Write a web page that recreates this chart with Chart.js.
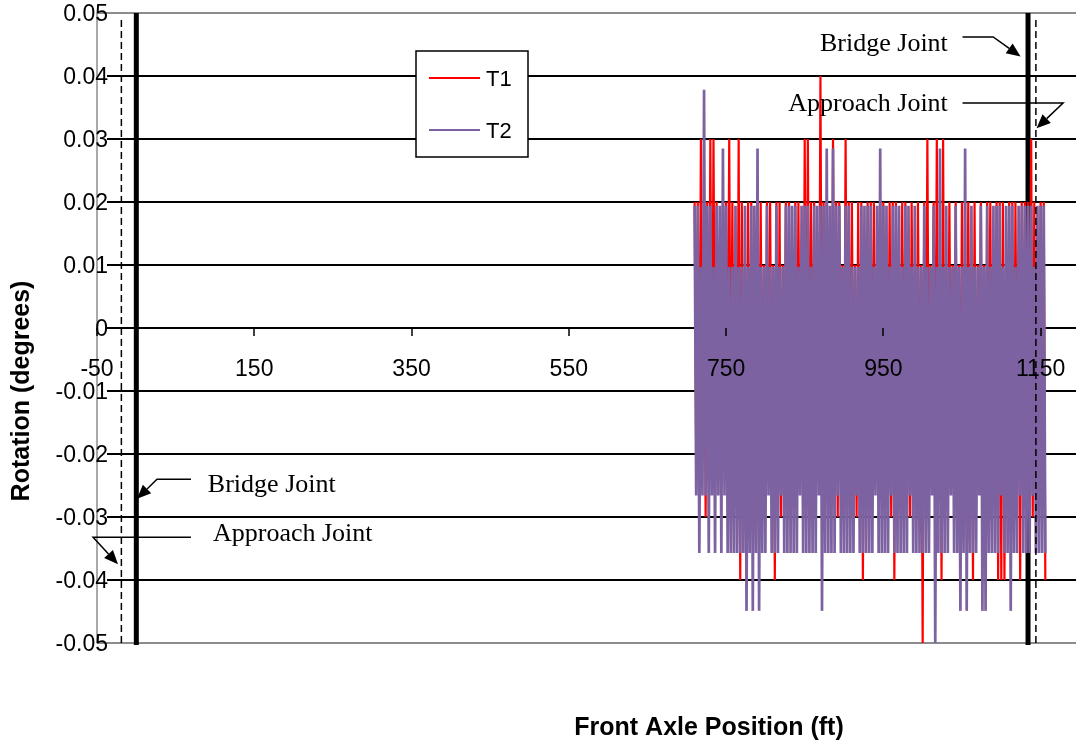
<!DOCTYPE html>
<html>
<head>
<meta charset="utf-8">
<script src="https://cdn.jsdelivr.net/npm/chart.js@4.4.1/dist/chart.umd.min.js"></script>
<style>
  body { margin: 0; background: #fff; }
  canvas { display: block; }
</style>
</head>
<body>
<canvas id="rotationChart" width="1076" height="742"></canvas>
<script>
// Front axle position (ft) for every sample
const positions = [
    710, 712, 714, 716, 718, 720, 722, 724, 726, 728, 730, 732, 734, 736, 738, 740,
    742, 744, 746, 748, 750, 752, 754, 756, 758, 760, 762, 764, 766, 768, 770, 772,
    774, 776, 778, 780, 782, 784, 786, 788, 790, 792, 794, 796, 798, 800, 802, 804,
    806, 808, 810, 812, 814, 816, 818, 820, 822, 824, 826, 828, 830, 832, 834, 836,
    838, 840, 842, 844, 846, 848, 850, 852, 854, 856, 858, 860, 862, 864, 866, 868,
    870, 872, 874, 876, 878, 880, 882, 884, 886, 888, 890, 892, 894, 896, 898, 900,
    902, 904, 906, 908, 910, 912, 914, 916, 918, 920, 922, 924, 926, 928, 930, 932,
    934, 936, 938, 940, 942, 944, 946, 948, 950, 952, 954, 956, 958, 960, 962, 964,
    966, 968, 970, 972, 974, 976, 978, 980, 982, 984, 986, 988, 990, 992, 994, 996,
    998, 1000, 1002, 1004, 1006, 1008, 1010, 1012, 1014, 1016, 1018, 1020, 1022, 1024, 1026, 1028,
    1030, 1032, 1034, 1036, 1038, 1040, 1042, 1044, 1046, 1048, 1050, 1052, 1054, 1056, 1058, 1060,
    1062, 1064, 1066, 1068, 1070, 1072, 1074, 1076, 1078, 1080, 1082, 1084, 1086, 1088, 1090, 1092,
    1094, 1096, 1098, 1100, 1102, 1104, 1106, 1108, 1110, 1112, 1114, 1116, 1118, 1120, 1122, 1124,
    1126, 1128, 1130, 1132, 1134, 1136, 1138, 1140, 1142, 1144, 1146, 1148, 1150, 1152, 1154, 1156
];

// rotation (degrees), truck T1
const t1Values = [
    0.02, -0.02, 0.02, -0.02, 0.03, -0.02, 0.02, -0.03, 0.02, -0.02, 0.03, -0.02, 0.03, -0.02, 0.02, -0.02,
    0.01, -0.02, 0.02, -0.02, 0.02, -0.02, 0.03, -0.02, 0.02, -0.02, 0.01, -0.03, 0.03, -0.04, 0.02, -0.02,
    0.01, -0.02, 0.02, -0.03, 0.02, -0.02, 0.01, -0.02, 0.02, -0.02, 0.02, -0.02, 0.01, -0.02, 0.02, -0.02,
    0.02, -0.02, 0.01, -0.04, 0.02, -0.03, 0.02, -0.03, 0.01, -0.02, 0.02, -0.03, 0.02, -0.02, 0.01, -0.02,
    0.02, -0.02, 0.02, -0.02, 0.01, -0.03, 0.03, -0.02, 0.03, -0.02, 0.02, -0.02, 0.02, -0.03, 0.01, -0.02,
    0.04, -0.02, 0.02, -0.02, 0.02, -0.03, 0.01, -0.02, 0.03, -0.02, 0.02, -0.03, 0.02, -0.02, 0.01, -0.02,
    0.03, -0.02, 0.02, -0.02, 0.02, -0.02, 0.01, -0.03, 0.02, -0.03, 0.02, -0.04, 0.01, -0.02, 0.02, -0.03,
    0.02, -0.02, 0.02, -0.02, 0.01, -0.02, 0.02, -0.02, 0.02, -0.02, 0.01, -0.02, 0.02, -0.03, 0.02, -0.04,
    0.02, -0.02, 0.01, -0.02, 0.02, -0.02, 0.02, -0.03, 0.01, -0.03, 0.02, -0.02, 0.01, -0.02, 0.02, -0.02,
    0.01, -0.05, 0.02, -0.02, 0.03, -0.02, 0.01, -0.02, 0.02, -0.02, 0.03, -0.02, 0.01, -0.04, 0.03, -0.03,
    0.01, -0.02, 0.02, -0.02, 0.01, -0.02, 0.02, -0.02, 0.01, -0.02, 0.02, -0.02, 0.01, -0.02, 0.02, -0.02,
    0.01, -0.04, 0.02, -0.03, 0.01, -0.02, 0.02, -0.02, 0.01, -0.03, 0.02, -0.02, 0.02, -0.02, 0.01, -0.02,
    0.02, -0.04, 0.02, -0.04, 0.02, -0.04, 0.01, -0.02, 0.02, -0.02, 0.02, -0.03, 0.02, -0.02, 0.01, -0.04,
    0.02, -0.02, 0.02, -0.02, 0.02, -0.02, 0.03, -0.03, 0.02, -0.02, 0.01, -0.02, 0.02, -0.02, 0.02, -0.04
];

// rotation (degrees), truck T2
const t2Values = [
    0.0194, -0.0266, 0.0194, -0.0357, 0.0097, -0.0266, 0.0378, -0.0266, 0.0194, -0.0357, 0.0194, -0.0266, 0.0097, -0.0357, 0.0194, -0.0266,
    0.0194, -0.0357, 0.0285, -0.0266, 0.0194, -0.0357, 0.0097, -0.0357, 0.0097, -0.0357, 0.0194, -0.0357, 0.0097, -0.0357, 0.0097, -0.0357,
    0.0194, -0.0449, 0.0097, -0.0357, 0.0194, -0.0449, 0.0194, -0.0357, 0.0285, -0.0449, 0.0097, -0.0357, 0.0097, -0.0357, 0.0194, -0.0266,
    0.0097, -0.0357, 0.0097, -0.0357, 0.0194, -0.0357, 0.0097, -0.0266, 0.0097, -0.0357, 0.0194, -0.0357, 0.0194, -0.0357, 0.0194, -0.0357,
    0.0194, -0.0357, 0.0097, -0.0266, 0.0194, -0.0357, 0.0194, -0.0357, 0.0194, -0.0357, 0.0097, -0.0357, 0.0194, -0.0357, 0.0194, -0.0266,
    0.0194, -0.0449, 0.0194, -0.0357, 0.0285, -0.0357, 0.0194, -0.0357, 0.0285, -0.0357, 0.0194, -0.0266, 0.0194, -0.0357, 0.0097, -0.0357,
    0.0194, -0.0357, 0.0194, -0.0357, 0.0097, -0.0357, 0.0097, -0.0266, 0.0097, -0.0357, 0.0194, -0.0357, 0.0194, -0.0357, 0.0194, -0.0357,
    0.0194, -0.0357, 0.0097, -0.0266, 0.0194, -0.0357, 0.0285, -0.0357, 0.0194, -0.0357, 0.0194, -0.0357, 0.0097, -0.0266, 0.0194, -0.0357,
    0.0194, -0.0357, 0.0194, -0.0357, 0.0097, -0.0357, 0.0194, -0.0357, 0.0194, -0.0266, 0.0097, -0.0357, 0.0194, -0.0357, 0.0097, -0.0357,
    0.0097, -0.0357, 0.0194, -0.0357, 0.0097, -0.0357, 0.0097, -0.0266, 0.0194, -0.0504, 0.0097, -0.0357, 0.0285, -0.0357, 0.0097, -0.0357,
    0.0194, -0.0357, 0.0097, -0.0266, 0.0097, -0.0357, 0.0194, -0.0357, 0.0097, -0.0449, 0.0097, -0.0357, 0.0285, -0.0449, 0.0097, -0.0357,
    0.0194, -0.0357, 0.0097, -0.0357, 0.0097, -0.0266, 0.0194, -0.0449, 0.0097, -0.0449, 0.0194, -0.0357, 0.0097, -0.0357, 0.0194, -0.0357,
    0.0194, -0.0357, 0.0194, -0.0266, 0.0097, -0.0357, 0.0194, -0.0357, 0.0194, -0.0449, 0.0194, -0.0357, 0.0097, -0.0357, 0.0194, -0.0266,
    0.0194, -0.0357, 0.0194, -0.0357, 0.0194, -0.0357, 0.0194, -0.0266, 0.0097, -0.0357, 0.0194, -0.0357, 0.0194, -0.0357, 0.0194, -0.0357
];

const xTicks = [-50, 150, 350, 550, 750, 950, 1150];
const yTicks = [0.05, 0.04, 0.03, 0.02, 0.01, 0, -0.01, -0.02, -0.03, -0.04, -0.05];

// joint locations (ft)
const bridgeJoints = [0, 1134];
const approachJoints = [-19, 1144];

const SANS = "'Liberation Sans', Arial, sans-serif";
const SERIF = "'Liberation Serif', 'Times New Roman', serif";

// callouts, in data units: text anchor then leader line ending at the arrow tip
const callouts = [
    { text: 'Bridge Joint', align: 'left', at: [91, -0.0249], line: [[69.5, -0.024], [26.3, -0.024], [0.9, -0.0271]] },
    { text: 'Approach Joint', align: 'left', at: [97.5, -0.0327], line: [[69.5, -0.0332], [-55, -0.0332], [-23.3, -0.0375]] },
    { text: 'Bridge Joint', align: 'right', at: [1032, 0.0451], line: [[1050.7, 0.0462], [1089.7, 0.0462], [1124.5, 0.0431]] },
    { text: 'Approach Joint', align: 'right', at: [1032, 0.0356], line: [[1050.7, 0.0357], [1178.6, 0.0357], [1144.8, 0.0317]] }
];

function drawArrow(ctx, pts) {
    const n = pts.length;
    const [tx, ty] = pts[n - 1];
    const [px, py] = pts[n - 2];
    const ang = Math.atan2(ty - py, tx - px);
    const len = 14, half = 6;
    const bx = tx - len * Math.cos(ang), by = ty - len * Math.sin(ang);

    ctx.beginPath();
    ctx.moveTo(pts[0][0], pts[0][1]);
    for (let i = 1; i < n - 1; i++) ctx.lineTo(pts[i][0], pts[i][1]);
    ctx.lineTo(bx, by);
    ctx.stroke();

    // filled head
    ctx.beginPath();
    ctx.moveTo(tx, ty);
    ctx.lineTo(bx + half * Math.sin(ang), by - half * Math.cos(ang));
    ctx.lineTo(bx - half * Math.sin(ang), by + half * Math.cos(ang));
    ctx.closePath();
    ctx.fill();
}

const overlay = {
    id: 'overlay',
    beforeDatasetsDraw(chart) {
        const { ctx, chartArea: a, scales: { x, y } } = chart;
        ctx.save();

        // horizontal gridlines
        yTicks.forEach((v) => {
            const py = Math.round(y.getPixelForValue(v));
            const edge = Math.abs(v) === 0.05;
            ctx.strokeStyle = edge ? '#8c8c8c' : '#000';
            ctx.lineWidth = 2;
            ctx.beginPath();
            ctx.moveTo(edge ? a.left : a.left + 10, py);
            ctx.lineTo(a.right, py);
            ctx.stroke();
        });

        // plot area left border
        ctx.strokeStyle = '#8c8c8c';
        ctx.lineWidth = 1.5;
        ctx.beginPath();
        ctx.moveTo(a.left, a.top);
        ctx.lineTo(a.left, a.bottom);
        ctx.stroke();

        // bridge joints (solid, thick)
        ctx.strokeStyle = '#000';
        ctx.lineWidth = 5;
        bridgeJoints.forEach((j) => {
            const px = x.getPixelForValue(j);
            ctx.beginPath();
            ctx.moveTo(px, a.top);
            ctx.lineTo(px, a.bottom + 2);
            ctx.stroke();
        });
        ctx.restore();
    },
    afterDatasetsDraw(chart) {
        const { ctx, chartArea: a, scales: { x, y } } = chart;
        ctx.save();

        // approach joints (dashed)
        ctx.strokeStyle = '#000';
        ctx.lineWidth = 1.5;
        ctx.setLineDash([7, 4]);
        approachJoints.forEach((j) => {
            const px = x.getPixelForValue(j);
            ctx.beginPath();
            ctx.moveTo(px, a.top + 7);
            ctx.lineTo(px, a.bottom);
            ctx.stroke();
        });
        ctx.setLineDash([]);

        // x tick marks on the zero line
        const y0 = Math.round(y.getPixelForValue(0));
        ctx.lineWidth = 1.5;
        xTicks.forEach((v) => {
            const px = Math.round(x.getPixelForValue(v));
            ctx.beginPath();
            ctx.moveTo(px, y0);
            ctx.lineTo(px, y0 + 8);
            ctx.stroke();
        });

        // tick labels
        ctx.fillStyle = '#000';
        ctx.font = '23px ' + SANS;
        ctx.textAlign = 'center';
        ctx.textBaseline = 'middle';
        xTicks.forEach((v) => {
            ctx.fillText(String(v), x.getPixelForValue(v), y0 + 42);
        });
        ctx.textAlign = 'right';
        yTicks.forEach((v) => {
            const label = v === 0 ? '0' : v.toFixed(2);
            ctx.fillText(label, a.left + 11, y.getPixelForValue(v) + 2);
        });

        // legend box
        const lx = 416, ly = 51, lw = 112, lh = 106;
        ctx.fillStyle = '#fff';
        ctx.fillRect(lx, ly, lw, lh);
        ctx.strokeStyle = '#000';
        ctx.lineWidth = 1.5;
        ctx.strokeRect(lx, ly, lw, lh);
        ctx.font = '22px ' + SANS;
        ctx.textAlign = 'left';
        chart.data.datasets.forEach((ds, i) => {
            const ry = ly + 27 + i * 52;
            ctx.strokeStyle = ds.borderColor;
            ctx.lineWidth = 2;
            ctx.beginPath();
            ctx.moveTo(lx + 13, ry);
            ctx.lineTo(lx + 64, ry);
            ctx.stroke();
            ctx.fillStyle = '#000';
            ctx.fillText(ds.label, lx + 70, ry + 2);
        });

        // joint callouts
        ctx.font = '26px ' + SERIF;
        ctx.strokeStyle = '#000';
        ctx.fillStyle = '#000';
        ctx.lineWidth = 1.5;
        callouts.forEach((c) => {
            ctx.textAlign = c.align;
            ctx.fillText(c.text, x.getPixelForValue(c.at[0]), y.getPixelForValue(c.at[1]));
            drawArrow(ctx, c.line.map(p => [x.getPixelForValue(p[0]), y.getPixelForValue(p[1])]));
        });

        // axis titles
        ctx.font = 'bold 25px ' + SANS;
        ctx.textAlign = 'center';
        ctx.fillText('Front Axle Position (ft)', 709, 728);
        ctx.translate(22, 391);
        ctx.rotate(-Math.PI / 2);
        ctx.fillText('Rotation (degrees)', 0, 0);
        ctx.restore();
    }
};

const ctx = document.getElementById('rotationChart');
new Chart(ctx, {
    type: 'line',
    data: {
        datasets: [
            {
                label: 'T1',
                data: positions.map((p, i) => ({ x: p, y: t1Values[i] })),
                borderColor: '#FF0000',
                borderWidth: 2.2,
                pointRadius: 0,
                tension: 0,
                order: 2
            },
            {
                label: 'T2',
                data: positions.map((p, i) => ({ x: p, y: t2Values[i] })),
                borderColor: '#7D62A1',
                borderWidth: 2.7,
                pointRadius: 0,
                tension: 0,
                order: 1
            }
        ]
    },
    options: {
        responsive: false,
        animation: false,
        layout: { padding: { left: 97, top: 13, right: 0, bottom: 99 } },
        plugins: {
            legend: { display: false },
            tooltip: { enabled: false }
        },
        scales: {
            x: { type: 'linear', min: -50, max: 1195, display: false },
            y: { min: -0.05, max: 0.05, display: false }
        }
    },
    plugins: [overlay]
});
</script>
</body>
</html>
